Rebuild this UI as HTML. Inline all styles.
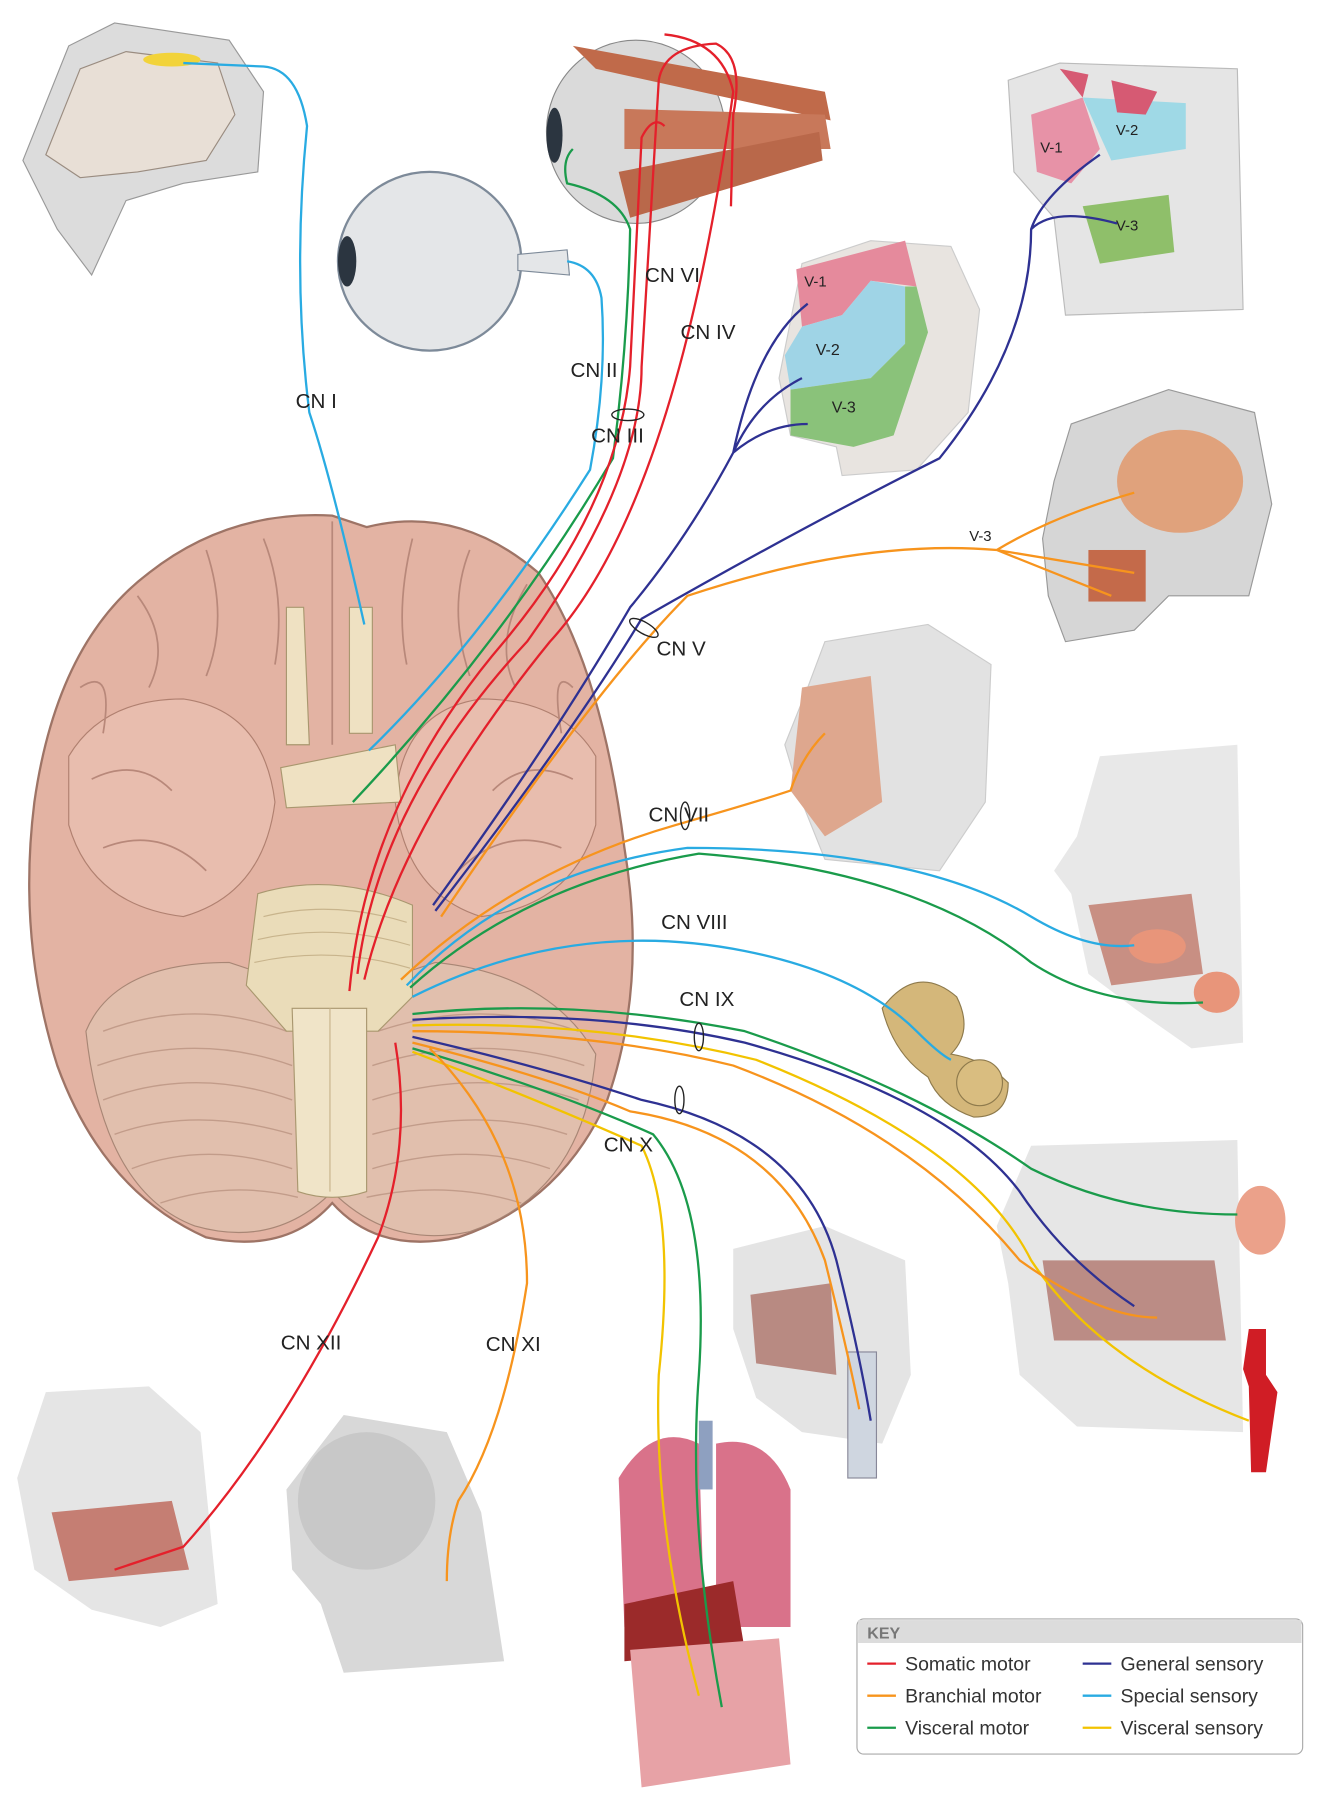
<!DOCTYPE html>
<html><head><meta charset="utf-8"><style>
html,body{margin:0;padding:0;background:#fff;}
svg{display:block}
text{font-family:"Liberation Sans",sans-serif;}
</style></head><body>
<svg width="1329" height="1800" viewBox="0 0 1160 1571" xmlns="http://www.w3.org/2000/svg">
<rect width="1160" height="1571" fill="#fff"/>
<!-- nose top-left -->
<path d="M20,140 L60,40 L100,20 L200,35 L230,80 L225,150 L160,160 L110,175 L80,240 L50,200 Z" fill="#dcdcdc" stroke="#999"/>
<path d="M40,135 L70,60 L110,45 L190,55 L205,100 L180,140 L120,150 L70,155 Z" fill="#e8dfd6" stroke="#9a8c80"/>
<ellipse cx="150" cy="52" rx="25" ry="6" fill="#f2d33a"/>
<!-- eye middle-left -->
<ellipse cx="375" cy="228" rx="80" ry="78" fill="#e4e6e8" stroke="#7d8a99" stroke-width="2"/>
<ellipse cx="303" cy="228" rx="8" ry="22" fill="#2b3540"/>
<path d="M452,222 L495,218 L497,240 L452,236 Z" fill="#e4e6e8" stroke="#7d8a99"/>
<!-- eye with muscles -->
<ellipse cx="555" cy="115" rx="78" ry="80" fill="#dadada" stroke="#888"/>
<path d="M500,40 L720,80 L725,105 L520,60 Z" fill="#c06a4a"/>
<path d="M545,95 L720,100 L725,130 L545,130 Z" fill="#c8785a"/>
<path d="M540,150 L715,115 L718,140 L550,190 Z" fill="#b9684a"/>
<ellipse cx="484" cy="118" rx="7" ry="24" fill="#2b3540"/>
<!-- sagittal head right top -->
<path d="M880,70 L925,55 L1080,60 L1085,270 L930,275 L920,190 L885,150 Z" fill="#e5e5e5" stroke="#bbb"/>
<path d="M900,100 L945,85 L960,130 L935,160 L905,150 Z" fill="#e792a7"/>
<path d="M945,85 L1035,90 L1035,130 L970,140 Z" fill="#9fd9e6"/>
<path d="M945,180 L1020,170 L1025,220 L960,230 Z" fill="#8fbf6a"/>
<path d="M925,60 L950,65 L945,85 Z M970,70 L1010,80 L1000,100 L975,98 Z" fill="#d65a73"/>
<!-- face sensory -->
<path d="M700,230 L760,210 L830,215 L855,270 L845,360 L800,410 L735,415 L730,390 L690,380 L680,330 L690,280 Z" fill="#e8e4e0" stroke="#ccc"/>
<path d="M695,235 L790,210 L800,250 L760,245 L735,275 L700,285 Z" fill="#e58a9c"/>
<path d="M700,285 L735,275 L760,245 L790,250 L790,300 L760,330 L690,340 L685,310 Z" fill="#9fd4e6"/>
<path d="M690,340 L760,330 L790,300 L790,250 L800,250 L810,290 L780,380 L745,390 L690,380 Z" fill="#8ac27a"/>
<text x="702" y="250" font-size="13" fill="#222">V-1</text><text x="712" y="310" font-size="14" fill="#222">V-2</text><text x="726" y="360" font-size="14" fill="#222">V-3</text>
<text x="908" y="133" font-size="13" fill="#222">V-1</text><text x="974" y="118" font-size="13" fill="#222">V-2</text><text x="974" y="201" font-size="13" fill="#222">V-3</text>
<!-- skull -->
<path d="M935,370 L1020,340 L1095,360 L1110,440 L1090,520 L1020,520 L990,550 L930,560 L915,520 L910,470 L920,420 Z" fill="#d6d6d6" stroke="#999"/>
<ellipse cx="1030" cy="420" rx="55" ry="45" fill="#e0a27c"/>
<rect x="950" y="480" width="50" height="45" fill="#c46a4a"/>
<!-- head facial muscles -->
<path d="M720,560 L810,545 L865,580 L860,700 L820,760 L720,750 L700,700 L685,650 L705,600 Z" fill="#e2e2e2" stroke="#ccc"/>
<path d="M700,600 L760,590 L770,700 L720,730 L690,690 Z" fill="#dea78e"/>
<!-- mouth profile -->
<path d="M960,660 L1080,650 L1085,910 L1040,915 L990,880 L950,850 L935,780 L920,760 L940,730 Z" fill="#e8e8e8"/>
<path d="M950,790 L1040,780 L1050,850 L970,860 Z" fill="#c88f83"/>
<ellipse cx="1010" cy="826" rx="25" ry="15" fill="#e8957a"/><ellipse cx="1062" cy="866" rx="20" ry="18" fill="#e8957a"/>
<!-- ear -->
<path d="M770,880 Q800,840 835,870 Q850,900 830,920 Q860,925 880,945 Q880,975 850,975 Q820,965 810,940 Q780,920 770,880 Z" fill="#d4b77a" stroke="#8e7a4c"/>
<circle cx="855" cy="945" r="20" fill="#d9bd80" stroke="#8e7a4c"/>
<!-- lower right mouth -->
<path d="M900,1000 L1080,995 L1085,1250 L940,1245 L890,1200 L880,1120 L870,1070 Z" fill="#e6e6e6"/>
<path d="M910,1100 L1060,1100 L1070,1170 L920,1170 Z" fill="#bb8c85"/>
<ellipse cx="1100" cy="1065" rx="22" ry="30" fill="#eba18a"/>
<path d="M1090,1160 L1105,1160 L1105,1200 L1115,1215 L1105,1285 L1092,1285 L1090,1210 L1085,1195 Z" fill="#d01d25"/>
<!-- larynx head -->
<path d="M640,1090 L720,1070 L790,1100 L795,1200 L770,1260 L700,1250 L660,1220 L640,1160 Z" fill="#e4e4e4"/>
<path d="M655,1130 L725,1120 L730,1200 L660,1190 Z" fill="#b88a82"/>
<rect x="740" y="1180" width="25" height="110" fill="#cfd6e0" stroke="#889"/>
<!-- tongue bottom-left -->
<path d="M15,1290 L40,1215 L130,1210 L175,1250 L190,1400 L140,1420 L80,1405 L30,1370 Z" fill="#e5e5e5"/>
<path d="M45,1320 L150,1310 L165,1370 L60,1380 Z" fill="#c57e73"/>
<!-- neck skull -->
<path d="M250,1300 L300,1235 L390,1250 L420,1320 L440,1450 L300,1460 L280,1400 L255,1370 Z" fill="#d8d8d8"/>
<ellipse cx="320" cy="1310" rx="60" ry="60" fill="#c8c8c8"/>
<!-- organs -->
<path d="M540,1290 Q570,1240 610,1260 L615,1420 L545,1420 Z" fill="#d9728a"/>
<path d="M625,1260 Q670,1250 690,1300 L690,1420 L625,1420 Z" fill="#d9728a"/>
<rect x="610" y="1240" width="12" height="60" fill="#8ea0c0"/>
<path d="M545,1400 L640,1380 L650,1440 L545,1450 Z" fill="#9b2a2a"/>
<path d="M550,1440 L680,1430 L690,1540 L560,1560 Z" fill="#e7a2a6"/>
<!-- brain -->
<path d="M290,450 Q200,445 130,500 Q50,560 30,700 Q15,820 50,930 Q90,1040 180,1080 Q250,1095 290,1050 Q330,1095 400,1080 Q490,1050 530,960 Q565,860 545,740 Q525,580 470,500 Q400,440 320,460 Z" fill="#e3b3a3" stroke="#9e7466" stroke-width="2"/>
<path d="M60,660 Q90,610 160,610 Q230,620 240,700 Q230,780 160,800 Q80,790 60,720 Z" fill="#e8bdae" stroke="#b08070"/>
<path d="M520,660 Q490,610 420,610 Q350,620 345,700 Q355,780 420,800 Q500,790 520,720 Z" fill="#e8bdae" stroke="#b08070"/>
<g fill="none" stroke="#b8887a" stroke-width="1.5">
<path d="M120,520 Q150,560 130,600 M180,480 Q200,540 180,590 M230,470 Q250,520 240,580 M360,470 Q345,530 355,580 M410,480 Q390,530 410,590 M460,510 Q430,560 450,600"/>
<path d="M70,600 Q100,580 90,640 M80,680 Q120,660 150,690 M90,740 Q140,720 180,760 M500,600 Q480,580 490,640 M500,680 Q460,660 430,690 M490,740 Q440,720 400,760"/>
<path d="M290,455 L290,650"/>
</g>
<path d="M75,900 Q100,840 200,840 L290,870 L380,840 Q480,850 520,920 Q510,1040 410,1075 Q340,1090 290,1040 Q240,1090 170,1070 Q90,1040 75,900 Z" fill="#e1bfad" stroke="#a88675"/>
<g fill="none" stroke="#c29c8a" stroke-width="1.2">
<path d="M90,900 Q170,870 250,900 M85,930 Q170,900 255,930 M90,960 Q170,930 255,960 M100,990 Q170,965 255,990 M115,1020 Q180,995 255,1020 M140,1050 Q200,1030 260,1045"/>
<path d="M505,900 Q420,870 330,900 M510,930 Q420,900 325,930 M505,960 Q420,930 325,960 M495,990 Q420,965 325,990 M480,1020 Q410,995 325,1020 M455,1050 Q390,1030 320,1045"/>
</g>
<path d="M250,530 L265,530 L270,650 L250,650 Z M305,530 L325,530 L325,640 L305,640 Z" fill="#efe1c2" stroke="#a9976f"/>
<path d="M245,670 L345,650 L350,700 L250,705 Z" fill="#efe1c2" stroke="#a9976f"/>
<path d="M225,780 Q290,760 360,790 L360,870 L330,900 L250,900 L215,860 Z" fill="#eadcb9" stroke="#a9976f"/>
<g fill="none" stroke="#c8b48c" stroke-width="1"><path d="M230,800 Q290,785 355,805 M225,820 Q290,805 358,825 M222,840 Q290,825 358,845"/></g>
<path d="M255,880 L320,880 L320,1040 Q290,1050 260,1040 Z" fill="#f0e4c8" stroke="#a9976f"/>
<line x1="288" y1="880" x2="288" y2="1040" stroke="#c8b48c"/>
<!-- nerves -->
<g fill="none" stroke-width="2">
<path d="M318,545 Q290,420 270,360 Q255,240 268,110 Q260,60 230,58 L160,55" stroke="#29abe2"/>
<path d="M322,655 Q420,560 515,410 Q530,330 525,260 Q520,232 495,228" stroke="#29abe2"/>
<path d="M308,700 Q440,560 535,400 Q548,300 550,200 Q540,170 495,160 Q490,140 500,130" stroke="#1a9b4b"/>
<path d="M312,850 Q330,700 460,560 Q560,420 560,320 L575,70 Q580,40 625,38 Q650,50 640,100 L638,180" stroke="#e4202b"/>
<path d="M318,855 Q350,720 480,560 Q590,440 640,80 Q630,35 580,30" stroke="#e4202b"/>
<path d="M305,865 Q320,700 440,560 Q540,440 550,320 L560,120 Q570,100 580,110" stroke="#e4202b"/>
<path d="M378,790 Q480,650 550,530 Q600,470 640,395 Q660,350 700,330 M640,395 Q670,370 705,370 M640,395 Q660,300 705,265" stroke="#2e3192"/>
<path d="M380,795 Q500,640 560,540 Q700,460 820,400 Q900,300 900,200 Q910,170 960,135 M900,200 Q920,180 975,195" stroke="#2e3192"/>
<path d="M385,800 Q520,600 600,520 Q750,470 870,480 Q920,450 990,430 M870,480 Q930,490 990,500 M870,480 Q920,500 970,520" stroke="#f7941d"/>
<path d="M350,855 Q450,760 590,720 Q660,700 690,690 Q700,660 720,640" stroke="#f7941d"/>
<path d="M355,860 Q450,760 600,740 Q800,740 900,800 Q950,830 990,825" stroke="#29abe2"/>
<path d="M358,862 Q460,770 610,745 Q800,760 900,840 Q960,880 1050,875" stroke="#1a9b4b"/>
<path d="M360,870 Q500,800 650,830 Q750,850 800,900 Q820,920 830,925" stroke="#29abe2"/>
<path d="M360,885 Q500,870 650,900 Q800,950 900,1020 Q980,1060 1080,1060" stroke="#1a9b4b"/>
<path d="M360,890 Q520,880 650,910 Q830,960 890,1040 Q930,1100 990,1140" stroke="#2e3192"/>
<path d="M360,895 Q520,890 660,925 Q850,1000 900,1100 Q960,1190 1090,1240" stroke="#f2c300"/>
<path d="M360,900 Q520,900 640,930 Q800,990 890,1100 Q960,1150 1010,1150" stroke="#f7941d"/>
<path d="M360,905 Q470,930 560,960 Q700,990 730,1100 Q750,1180 760,1240" stroke="#2e3192"/>
<path d="M360,910 Q480,940 550,970 Q680,990 720,1100 Q740,1180 750,1230" stroke="#f7941d"/>
<path d="M360,915 Q480,950 570,990 Q620,1050 610,1200 Q600,1330 630,1490" stroke="#1a9b4b"/>
<path d="M360,918 Q470,960 560,1000 Q590,1060 575,1200 Q570,1330 610,1480" stroke="#f2c300"/>
<path d="M345,910 Q360,1000 330,1080 Q250,1250 160,1350 L100,1370" stroke="#e4202b"/>
<path d="M375,915 Q460,1000 460,1120 Q440,1250 400,1310 Q390,1340 390,1380" stroke="#f7941d"/>
</g>
<g stroke="#222" stroke-width="1.2" fill="none">
<ellipse cx="548" cy="362" rx="14" ry="5"/><ellipse cx="562" cy="548" rx="14" ry="5" transform="rotate(30 562 548)"/>
<ellipse cx="598" cy="712" rx="4" ry="12"/><ellipse cx="610" cy="905" rx="4" ry="12"/><ellipse cx="593" cy="960" rx="4" ry="12"/>
</g>
<g font-size="18" fill="#222">
<text x="258" y="356">CN I</text><text x="498" y="329">CN II</text><text x="516" y="386">CN III</text>
<text x="563" y="246">CN VI</text><text x="594" y="296">CN IV</text><text x="573" y="572">CN V</text>
<text x="566" y="717">CN VII</text><text x="577" y="811">CN VIII</text><text x="593" y="878">CN IX</text>
<text x="527" y="1005">CN X</text><text x="245" y="1178">CN XII</text><text x="424" y="1179">CN XI</text>
<text x="846" y="472" font-size="13">V-3</text>
</g>
<!-- key -->
<rect x="748" y="1413" width="389" height="118" rx="6" fill="#fff" stroke="#aaa"/>
<rect x="749" y="1414" width="387" height="20" fill="#dcdcdc"/>
<text x="757" y="1430" font-size="14" font-weight="bold" fill="#777">KEY</text>
<g stroke-width="2">
<line x1="757" y1="1452" x2="782" y2="1452" stroke="#e4202b"/><line x1="757" y1="1480" x2="782" y2="1480" stroke="#f7941d"/><line x1="757" y1="1508" x2="782" y2="1508" stroke="#1a9b4b"/>
<line x1="945" y1="1452" x2="970" y2="1452" stroke="#2e3192"/><line x1="945" y1="1480" x2="970" y2="1480" stroke="#29abe2"/><line x1="945" y1="1508" x2="970" y2="1508" stroke="#f2c300"/>
</g>
<g font-size="17" fill="#333">
<text x="790" y="1458">Somatic motor</text><text x="790" y="1486">Branchial motor</text><text x="790" y="1514">Visceral motor</text>
<text x="978" y="1458">General sensory</text><text x="978" y="1486">Special sensory</text><text x="978" y="1514">Visceral sensory</text>
</g>
</svg>
</body></html>
